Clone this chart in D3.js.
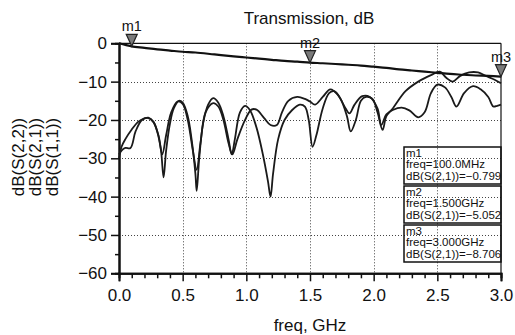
<!DOCTYPE html>
<html><head><meta charset="utf-8">
<script src="https://cdn.jsdelivr.net/npm/d3@7/dist/d3.min.js"></script>
<style>
body{margin:0;background:#fff}
svg{display:block}
text{font-family:"Liberation Sans",Arial,sans-serif;fill:#111}
</style>
</head><body>
<svg id="chart" width="515" height="335"></svg>
<script>
// ---- data ----
const titleText = "Transmission, dB";
const xLabel = "freq, GHz";
const yLabels = ["dB(S(2,2))", "dB(S(2,1))", "dB(S(1,1))"];
const xTicks = [0, 0.5, 1.0, 1.5, 2.0, 2.5, 3.0];
const yTicks = [0, -10, -20, -30, -40, -50, -60];

const s21Freq = [0, 0.05, 0.1, 0.2, 0.3, 0.4, 0.5, 0.6, 0.75, 0.9, 1.0, 1.1, 1.2, 1.3, 1.4, 1.5, 1.6, 1.7, 1.8, 1.9, 2.0, 2.1, 2.2, 2.3, 2.4, 2.5, 2.6, 2.7, 2.8, 2.9, 3.0];
const s21dB   = [0, -0.4, -0.799, -1.2, -1.6, -1.9, -2.2, -2.4, -2.9, -3.4, -3.7, -4.0, -4.3, -4.6, -4.8, -5.052, -5.2, -5.4, -5.6, -5.8, -6.1, -6.4, -6.8, -7.1, -7.4, -7.7, -8.0, -8.2, -8.4, -8.5, -8.706];

const s11Freq = [0, 0.02, 0.05, 0.1, 0.15, 0.2, 0.23, 0.27, 0.3, 0.33, 0.35, 0.37, 0.4, 0.43, 0.47, 0.5, 0.54, 0.57, 0.6, 0.61, 0.63, 0.66, 0.7, 0.74, 0.78, 0.82, 0.86, 0.885, 0.91, 0.95, 0.99, 1.03, 1.08, 1.13, 1.17, 1.19, 1.21, 1.25, 1.3, 1.36, 1.42, 1.46, 1.49, 1.52, 1.55, 1.6, 1.65, 1.69, 1.74, 1.79, 1.82, 1.86, 1.9, 1.94, 1.99, 2.03, 2.07, 2.1, 2.15, 2.25, 2.35, 2.45, 2.52, 2.57, 2.62, 2.68, 2.75, 2.82, 2.88, 2.95, 3.0];
const s11dB   = [-30, -27, -25, -22.5, -20.5, -19.6, -19.4, -20.5, -23, -28, -35, -28, -21, -17, -15, -15.5, -19, -25, -34, -38.5, -30, -21, -16, -14.3, -15.5, -19, -25, -29, -25, -18, -16.3, -17.5, -22, -29, -36, -40, -34, -25, -20, -17.4, -16, -16.5, -20, -27, -24, -17, -13, -12.5, -14.5, -19, -23, -20, -15, -14, -14.5, -18, -22.6, -19, -17, -12.5, -10, -8.3, -7.4, -9, -10, -8.5, -7.6, -7.6, -8.5, -9.5, -10.4];

const s22Freq = [0, 0.02, 0.05, 0.09, 0.13, 0.18, 0.23, 0.27, 0.31, 0.34, 0.37, 0.41, 0.46, 0.5, 0.54, 0.58, 0.61, 0.64, 0.68, 0.74, 0.78, 0.82, 0.86, 0.89, 0.93, 0.99, 1.04, 1.08, 1.14, 1.19, 1.24, 1.28, 1.33, 1.4, 1.46, 1.5, 1.54, 1.6, 1.66, 1.72, 1.78, 1.81, 1.85, 1.91, 1.97, 2.03, 2.06, 2.1, 2.15, 2.22, 2.28, 2.35, 2.4, 2.45, 2.5, 2.56, 2.61, 2.65, 2.71, 2.78, 2.84, 2.9, 2.94, 2.97, 3.0];
const s22dB   = [-29, -28, -27.3, -27.3, -23, -20, -19.5, -20.5, -24, -29, -24, -18, -15.2, -15.8, -20, -28, -33, -26, -18, -15.6, -16.5, -20, -26, -29, -25, -20, -17.3, -17.3, -19.5, -21.3, -21.3, -18, -15, -14, -14.5, -15.2, -16, -14, -12, -13.5, -17, -18.3, -16, -13.8, -14, -17, -21.3, -18.5, -17.4, -16.8, -17.5, -19.3, -18, -13, -10.8, -11.5, -14, -16.5, -13, -11.2, -12, -14, -16.5, -16.3, -16];

const markerNames = ["m1", "m2", "m3"];
const markerFreq = [0.1, 1.5, 3.0];
const markerVal = [-0.799, -5.052, -8.706];
const markerFreqText = ["100.0MHz", "1.500GHz", "3.000GHz"];

// ---- drawing ----
const svg = d3.select("#chart");
const x = d3.scaleLinear().domain([0, 3]).range([119, 501]);
const y = d3.scaleLinear().domain([-60, 0]).range([273.3, 43.3]);

// grid
const grid = svg.append("g").attr("stroke", "#444").attr("stroke-width", 1).attr("stroke-dasharray", "1,2");
grid.selectAll("line.gx").data(xTicks.filter(d => d > 0 && d < 3)).join("line")
  .attr("x1", d => Math.round(x(d)) + 0.5).attr("x2", d => Math.round(x(d)) + 0.5)
  .attr("y1", y(0)).attr("y2", y(-60));
grid.selectAll("line.gy").data(yTicks.filter(d => d < 0 && d > -60)).join("line")
  .attr("y1", d => Math.round(y(d)) + 0.5).attr("y2", d => Math.round(y(d)) + 0.5)
  .attr("x1", x(0)).attr("x2", x(3));

// frame top/right
svg.append("line").attr("x1", x(0)).attr("x2", x(3)).attr("y1", y(0)).attr("y2", y(0)).attr("stroke", "#111").attr("stroke-width", 1.2);
svg.append("line").attr("x1", x(3)).attr("x2", x(3)).attr("y1", y(0)).attr("y2", y(-60)).attr("stroke", "#111").attr("stroke-width", 1.2);

// axes
const yMinor = d3.range(-55, 0, 10);
const xMinor = d3.range(1, 30).map(i => i / 10).filter(v => Math.abs(v * 2 - Math.round(v * 2)) > 1e-6);

const gyMinor = svg.append("g").attr("transform", `translate(${x(0)},0)`)
  .call(d3.axisLeft(y).tickValues(yMinor).tickSize(4).tickFormat(""));
const gy = svg.append("g").attr("transform", `translate(${x(0)},0)`)
  .call(d3.axisLeft(y).tickValues(yTicks).tickSize(8).tickPadding(4).tickFormat(d3.format("d")));
const gxMinor = svg.append("g").attr("transform", `translate(0,${y(-60)})`)
  .call(d3.axisBottom(x).tickValues(xMinor).tickSize(5).tickFormat(""));
const gx = svg.append("g").attr("transform", `translate(0,${y(-60)})`)
  .call(d3.axisBottom(x).tickValues(xTicks).tickSize(8).tickPadding(8).tickFormat(d3.format(".1f")));

[gy, gx, gyMinor, gxMinor].forEach(g => {
  g.select(".domain").attr("stroke", "#111").attr("stroke-width", 2);
  g.selectAll(".tick line").attr("stroke", "#111").attr("stroke-width", 1.5);
  g.selectAll("text").attr("font-size", 17).attr("font-family", '"Liberation Sans",Arial,sans-serif').attr("fill", "#111");
});

// curves
const line = d3.line().x(d => x(d[0])).y(d => y(d[1])).curve(d3.curveCatmullRom.alpha(0.5));
const plot = svg.append("g");
plot.append("path").datum(d3.zip(s11Freq, s11dB)).attr("d", line)
  .attr("fill", "none").attr("stroke", "#1a1a1a").attr("stroke-width", 1.8);
plot.append("path").datum(d3.zip(s22Freq, s22dB)).attr("d", line)
  .attr("fill", "none").attr("stroke", "#1a1a1a").attr("stroke-width", 1.8);
plot.append("path").datum(d3.zip(s21Freq, s21dB)).attr("d", line)
  .attr("fill", "none").attr("stroke", "#111").attr("stroke-width", 2.2);

// markers
const mk = svg.append("g");
markerNames.forEach((name, i) => {
  const mx = x(markerFreq[i]), my = y(markerVal[i]);
  mk.append("path")
    .attr("d", `M${mx},${my} L${mx - 5.5},${my - 12} L${mx + 5.5},${my - 12} Z`)
    .attr("fill", "#7a7a7a").attr("stroke", "#222").attr("stroke-width", 1.2);
  mk.append("text").attr("x", mx).attr("y", my - 15).attr("text-anchor", "middle")
    .attr("font-size", 14.5).text(name);
});

// marker readout boxes
const boxTop = [147, 186, 225];
const bx0 = 404, bx1 = x(3), bh = 37;
markerNames.forEach((name, i) => {
  const g = svg.append("g");
  g.append("rect").attr("x", bx0).attr("y", boxTop[i]).attr("width", bx1 - bx0).attr("height", bh)
    .attr("fill", "none").attr("stroke", "#111").attr("stroke-width", 1.5);
  const lines = [name, "freq=" + markerFreqText[i], "dB(S(2,1))=" + d3.format(".3f")(markerVal[i])];
  lines.forEach((t, j) => {
    g.append("text").attr("x", bx0 + 2).attr("y", boxTop[i] + 10 + j * 11.3)
      .attr("font-size", 11.5).text(t);
  });
});

// titles
svg.append("text").attr("x", 309).attr("y", 24).attr("text-anchor", "middle").attr("font-size", 17).text(titleText);
svg.append("text").attr("x", 310).attr("y", 331).attr("text-anchor", "middle").attr("font-size", 17).text(xLabel);
yLabels.forEach((t, i) => {
  svg.append("text").attr("transform", `translate(${24 + i * 17},157) rotate(-90)`)
    .attr("text-anchor", "middle").attr("font-size", 17).text(t);
});
</script>
</body></html>
